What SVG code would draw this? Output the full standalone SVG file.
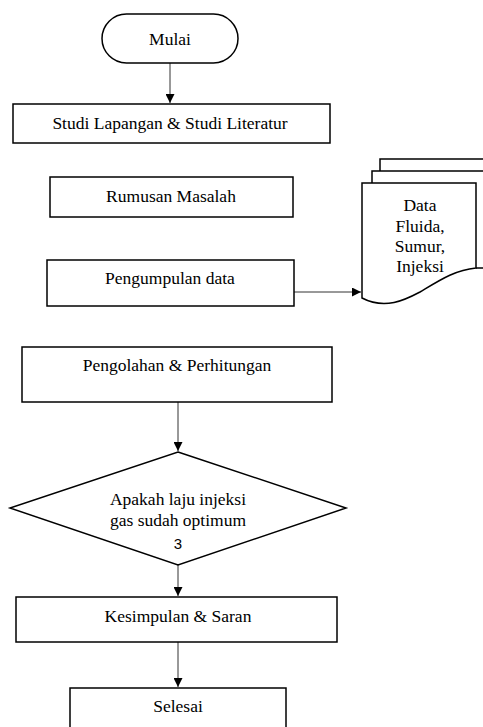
<svg xmlns="http://www.w3.org/2000/svg" width="483" height="727" viewBox="0 0 483 727">
<style>
.box{fill:#fff;stroke:#000;stroke-width:1.5}
.t{font-family:"Liberation Serif","Times New Roman",serif;font-size:17.5px;fill:#000;text-anchor:middle}
.s{font-family:"Liberation Sans",Arial,sans-serif;font-size:15px;fill:#000;text-anchor:middle}
.c{fill:none;stroke:#333;stroke-width:1}
</style>
<defs>
<marker id="ah" viewBox="0 0 10 10" refX="10" refY="5" markerWidth="9" markerHeight="9" markerUnits="userSpaceOnUse" orient="auto">
<path d="M0,0 L10,5 L0,10 z" fill="#000"/>
</marker>
</defs>
<rect width="483" height="727" fill="#fff"/>
<g id="connectors">
<line class="c" x1="170" y1="63" x2="170" y2="103" marker-end="url(#ah)"/>
<line class="c" x1="294" y1="292" x2="361" y2="292" marker-end="url(#ah)"/>
<line class="c" x1="178" y1="402" x2="178" y2="451" marker-end="url(#ah)" stroke="#888"/>
<line class="c" x1="178" y1="565" x2="178" y2="596" marker-end="url(#ah)" stroke="#888"/>
<line class="c" x1="178" y1="642" x2="178" y2="687" marker-end="url(#ah)"/>
</g>
<g id="mulai">
<rect class="box" x="102" y="14" width="136" height="49" rx="24.5" ry="24.5"/>
<text class="t" x="170" y="45">Mulai</text>
</g>
<g id="studi">
<rect class="box" x="13" y="104" width="317" height="39"/>
<text class="t" x="170" y="129">Studi Lapangan &amp; Studi Literatur</text>
</g>
<g id="rumusan">
<rect class="box" x="50" y="177" width="243" height="40"/>
<text class="t" x="171" y="202">Rumusan Masalah</text>
</g>
<g id="pengumpulan">
<rect class="box" x="47" y="260" width="247" height="46"/>
<text class="t" x="170" y="284">Pengumpulan data</text>
</g>
<g id="data">
<path class="box" d="M380,171 L380,159 L490,159 L490,258"/>
<path class="box" d="M372,183 L372,171 L490,171 L490,268 L476,268"/>
<path class="box" d="M362,183 L476,183 L476,268 C455,270 440,280 420,292 C405,300 385,310 362,298 Z"/>
<text class="t" x="420" y="211">Data</text>
<text class="t" x="420" y="232">Fluida,</text>
<text class="t" x="420" y="252">Sumur,</text>
<text class="t" x="420" y="272">Injeksi</text>
</g>
<g id="pengolahan">
<rect class="box" x="22" y="347" width="310" height="55"/>
<text class="t" x="177" y="371">Pengolahan &amp; Perhitungan</text>
</g>
<g id="keputusan">
<polygon class="box" points="178,452 346,508 178,565 10,508"/>
<text class="t" x="178" y="505">Apakah laju injeksi</text>
<text class="t" x="178" y="526">gas sudah optimum</text>
<text class="s" x="178" y="549">3</text>
</g>
<g id="kesimpulan">
<rect class="box" x="16" y="597" width="321" height="45"/>
<text class="t" x="178" y="622">Kesimpulan &amp; Saran</text>
</g>
<g id="selesai">
<rect class="box" x="70" y="688" width="216" height="50"/>
<text class="t" x="178" y="712">Selesai</text>
</g>
</svg>
